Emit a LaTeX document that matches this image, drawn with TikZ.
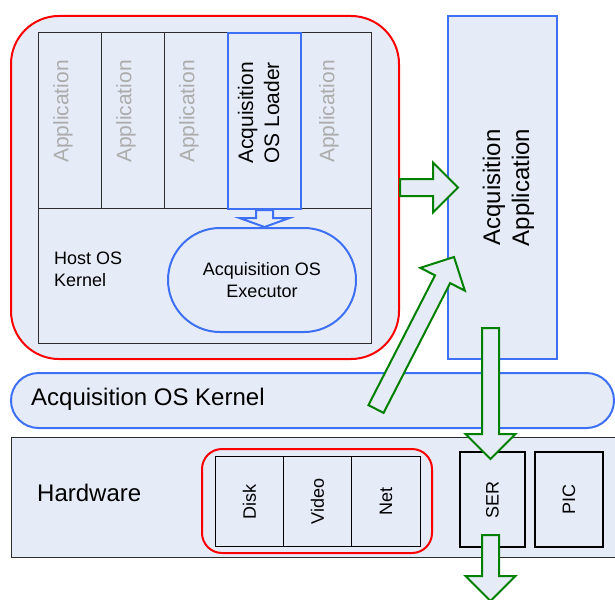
\documentclass[tikz,border=0pt]{standalone}
\usepackage{fontspec}
\setmainfont{Liberation Sans}
\usepackage{tikz}
\usetikzlibrary{positioning, calc}
\definecolor{boxfill}{RGB}{230,236,247}
\definecolor{edgeblue}{RGB}{62,112,246}
\definecolor{edgegreen}{RGB}{0,128,0}
\definecolor{edgedark}{RGB}{45,45,45}
\definecolor{appgray}{RGB}{172,172,172}
\tikzstyle{box} = [draw=edgedark, fill=boxfill, line width=1pt, inner sep=0pt, anchor=north west]
\tikzstyle{redgroup} = [box, draw=red, line width=2pt]
\tikzstyle{bluebox} = [box, draw=edgeblue, line width=2pt]
\tikzstyle{devbox} = [box, draw=black, line width=2pt]
\tikzstyle{txt} = [inner sep=0pt, align=center, font=\fontsize{18}{22}\selectfont]
\tikzstyle{vtxt} = [txt, rotate=90]
\tikzstyle{bigtxt} = [txt, font=\fontsize{24}{29}\selectfont]
\tikzstyle{fat} = [draw=edgegreen, fill=boxfill, line width=2pt]
% block arrow: style, from, to, head length
\newcommand{\fatarrow}[4]{%
  \coordinate (fa-j) at ($(#3)!#4!(#2)$);
  \draw[#1] ($(#2)!8.5pt!90:(#3)$) -- ($(fa-j)!8.5pt!90:(#3)$) -- ($(fa-j)!25pt!90:(#3)$)
    -- (#3) -- ($(fa-j)!25pt!-90:(#3)$) -- ($(fa-j)!8.5pt!-90:(#3)$) -- ($(#2)!8.5pt!-90:(#3)$) -- cycle;
}

\begin{document}
\begin{tikzpicture}[x=1pt, y=-1pt]
  \useasboundingbox (0,0) rectangle (615,599);
  % host machine
  \node[redgroup, rounded corners=48pt, minimum width=388pt, minimum height=343pt] (host) at (10,15) {};
  \foreach \n/\x/\w in {app1/38/63, app2/101/63, app3/164/63, app5/300/71} {
    \node[box, minimum width=\w pt, minimum height=176pt] (\n) at (\x,32) {};
    \node[vtxt, text=appgray, font=\fontsize{21}{26}\selectfont] (\n-t) at ([xshift=-7pt, yshift=9pt]\n.center) {Application};
  }
  \node[box, minimum width=333pt, minimum height=135pt] (hostk) at (38,208) {};
  \node[txt, anchor=west, align=left] (hostk-t) at (54,269.5) {Host OS\\Kernel};
  \node[bluebox, minimum width=73pt, minimum height=176pt] (loader) at (227,32) {};
  \node[vtxt, font=\fontsize{21}{26}\selectfont] (loader-t) at ([xshift=-6pt, yshift=8pt]loader.center) {Acquisition\\OS Loader};
  \node[bluebox, anchor=center, rounded corners=52pt, minimum width=188pt, minimum height=104pt, align=center, font=\fontsize{18}{22}\selectfont] (exec) at (262,280) {Acquisition OS\\Executor};

  % acquisition side
  \node[bluebox, minimum width=109pt, minimum height=343pt] (acqapp) at (447,15) {};
  \node[bigtxt, rotate=90] (acqapp-t) at ([xshift=6pt]acqapp.center) {Acquisition\\Application};
  \node[bluebox, rounded corners=27.5pt, minimum width=603pt, minimum height=55pt] (aoskern) at (10,372) {};
  \node[bigtxt, anchor=west] (aoskern-t) at (31,399.5) {Acquisition OS Kernel};

  % hardware
  \node[box, minimum width=612pt, minimum height=120pt] (hw) at (11,437) {};
  \node[bigtxt, anchor=west] (hw-t) at (37,493) {Hardware};
  \node[redgroup, rounded corners=20pt, minimum width=230pt, minimum height=104pt] (devs) at (201,448) {};
  \foreach \n/\x/\w/\l in {disk/215/68/Disk, video/283/68/Video, net/351/69/Net} {
    \node[box, draw=black, minimum width=\w pt, minimum height=90pt] (\n) at (\x,456) {};
    \node[vtxt] (\n-t) at (\n.center) {\l};
  }
  \node[devbox, minimum width=65pt, minimum height=95pt] (ser) at (459,451) {};
  \node[vtxt] (ser-t) at (ser.center) {SER};
  \node[devbox, minimum width=68pt, minimum height=95pt] (pic) at (534,451) {};
  \node[vtxt] (pic-t) at (pic.center) {PIC};

  % block arrows
  \coordinate (ldtip) at (loader.south |- exec.north);
  \coordinate (apptip) at ($(acqapp.west)+(11,0)$);
  \coordinate (kerntail) at (376,409);
  \coordinate (appin) at (454,257);
  \coordinate (appout) at (490.5,328);
  \coordinate (sertip) at (490.5,459);
  \coordinate (serout) at (490.5,535);
  \coordinate (busout) at (490.5,601);
  \fatarrow{fat, draw=edgeblue}{loader.south}{ldtip}{9pt}
  \fatarrow{fat}{host.east}{apptip}{25pt}
  \fatarrow{fat}{kerntail}{appin}{25pt}
  \fatarrow{fat}{appout}{sertip}{25pt}
  \fatarrow{fat}{serout}{busout}{25pt}
\end{tikzpicture}
\end{document}
